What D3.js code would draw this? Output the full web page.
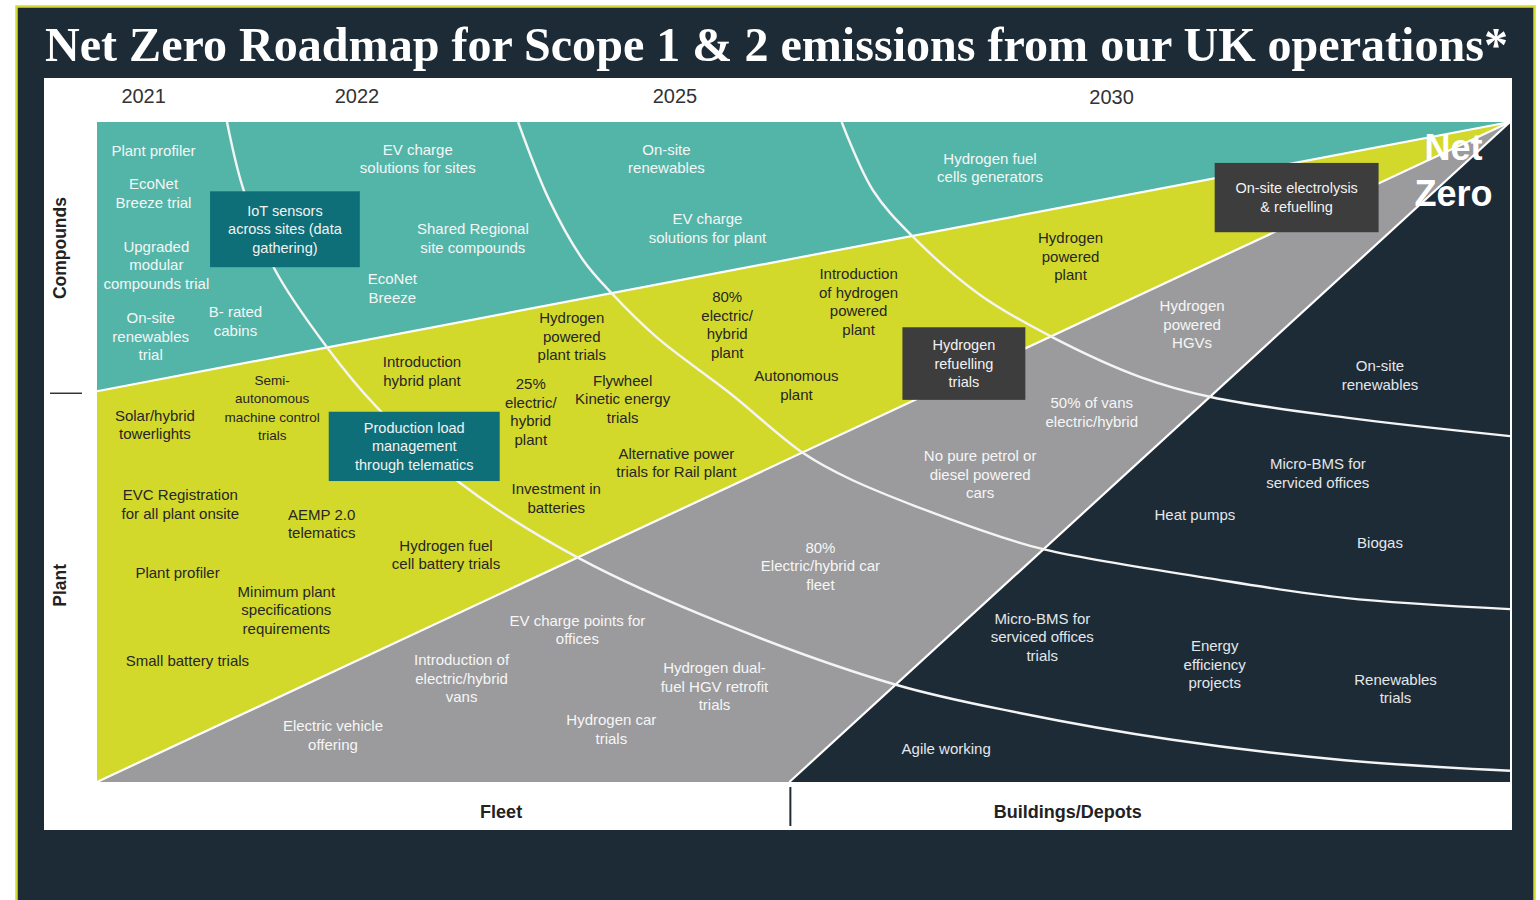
<!DOCTYPE html>
<html>
<head>
<meta charset="utf-8">
<script src="https://cdn.jsdelivr.net/npm/d3@7"></script>
<style>
  body { margin: 0; background: #fff; }
  svg { display: block; }
</style>
</head>
<body>
<div id="roadmap"></div>
<script>
// chart units: x and y both run 0..100 across the wedge area
var titleText = "Net Zero Roadmap for Scope 1 & 2 emissions from our UK operations*";

var years = ["2021", "2022", "2025", "2030"];
var yearPos = [3.3, 18.4, 40.9, 71.8];

var regionNames = ["Compounds", "Plant", "Fleet", "Buildings/Depots"];
var regionCorners = [
    [[0, 0], [100, 0], [0, 40.8]],
    [[0, 40.8], [100, 0], [0, 100]],
    [[0, 100], [100, 0], [49, 100]],
    [[49, 100], [100, 0], [100, 100]]
];
var sideLabelPos = [19.1, 70.2];     // Compounds, Plant (y)
var bottomLabelPos = [28.6, 68.7];   // Fleet, Buildings/Depots (x)

// time arcs (white curves)
var arcA = [[9.2, 0], [10.3, 9.8], [12.5, 22.0], [16.3, 34.2], [19.8, 43.2], [25.7, 54.7], [34.2, 66.2],
    [44.2, 75.9], [56.6, 85.3], [65.2, 89.5], [76.1, 93.6], [88.3, 96.7], [100, 98.3]];
var arcB = [[29.8, 0], [32.0, 11.8], [34.4, 20.9], [36.4, 25.9], [39.6, 32.6], [44.8, 41.1], [50.0, 50.2],
    [53.4, 54.2], [62.5, 61.8], [67.1, 64.8], [78.6, 69.1], [88.3, 72.1], [100, 73.8]];
var arcC = [[52.7, 0], [54.9, 10.3], [57.7, 17.3], [62.5, 26.2], [67.7, 32.7], [73.8, 38.6], [78.9, 41.7],
    [88.4, 44.8], [100, 47.6]];

// items: [lines, x, y of first line]
var compoundItems = [
    [["Plant profiler"], 4.0, 4.4],
    [["EcoNet", "Breeze trial"], 4.0, 9.4],
    [["Upgraded", "modular", "compounds trial"], 4.2, 18.9],
    [["On-site", "renewables", "trial"], 3.8, 29.7],
    [["B- rated", "cabins"], 9.8, 28.8],
    [["EV charge", "solutions for sites"], 22.7, 4.2],
    [["Shared Regional", "site compounds"], 26.6, 16.2],
    [["EcoNet", "Breeze"], 20.9, 23.8],
    [["On-site", "renewables"], 40.3, 4.2],
    [["EV charge", "solutions for plant"], 43.2, 14.7],
    [["Hydrogen fuel", "cells generators"], 63.2, 5.5]
];
var plantItems = [
    [["Solar/hybrid", "towerlights"], 4.1, 44.5],
    [["Semi-", "autonomous", "machine control", "trials"], 12.4, 39.1],
    [["Introduction", "hybrid plant"], 23.0, 36.4],
    [["Hydrogen", "powered", "plant trials"], 33.6, 29.7],
    [["25%", "electric/", "hybrid", "plant"], 30.7, 39.7],
    [["Flywheel", "Kinetic energy", "trials"], 37.2, 39.2],
    [["80%", "electric/", "hybrid", "plant"], 44.6, 26.5],
    [["Introduction", "of hydrogen", "powered", "plant"], 53.9, 23.0],
    [["Autonomous", "plant"], 49.5, 38.5],
    [["Alternative power", "trials for Rail plant"], 41.0, 50.2],
    [["Investment in", "batteries"], 32.5, 55.6],
    [["EVC Registration", "for all plant onsite"], 5.9, 56.5],
    [["AEMP 2.0", "telematics"], 15.9, 59.5],
    [["Hydrogen fuel", "cell battery trials"], 24.7, 64.2],
    [["Plant profiler"], 5.7, 68.3],
    [["Minimum plant", "specifications", "requirements"], 13.4, 71.1],
    [["Small battery trials"], 6.4, 81.7],
    [["Hydrogen", "powered", "plant"], 68.9, 17.6]
];
var fleetItems = [
    [["Electric vehicle", "offering"], 16.7, 91.5],
    [["Introduction of", "electric/hybrid", "vans"], 25.8, 81.5],
    [["EV charge points for", "offices"], 34.0, 75.5],
    [["Hydrogen car", "trials"], 36.4, 90.6],
    [["Hydrogen dual-", "fuel HGV retrofit", "trials"], 43.7, 82.7],
    [["80%", "Electric/hybrid  car", "fleet"], 51.2, 64.5],
    [["No pure petrol or", "diesel powered", "cars"], 62.5, 50.6],
    [["50% of vans", "electric/hybrid"], 70.4, 42.6],
    [["Hydrogen", "powered", "HGVs"], 77.5, 27.9]
];
var buildingItems = [
    [["On-site", "renewables"], 90.8, 37.0],
    [["Micro-BMS for", "serviced offices"], 86.4, 51.8],
    [["Heat pumps"], 77.7, 59.5],
    [["Biogas"], 90.8, 63.8],
    [["Micro-BMS for", "serviced offices", "trials"], 66.9, 75.2],
    [["Energy", "efficiency", "projects"], 79.1, 79.4],
    [["Renewables", "trials"], 91.9, 84.5],
    [["Agile working"], 60.1, 95.0]
];

// highlighted boxes: [lines, x0, y0, x1, y1, kind]
var boxItems = [
    [["IoT sensors", "across sites (data", "gathering)"], 8.0, 10.5, 18.6, 22.0, "teal"],
    [["Production load", "management", "through telematics"], 16.4, 43.9, 28.5, 54.4, "teal"],
    [["On-site electrolysis", "& refuelling"], 79.1, 6.2, 90.7, 16.7, "grey"],
    [["Hydrogen", "refuelling", "trials"], 57.0, 31.1, 65.7, 42.1, "grey"]
];

var W = 1540, H = 900;
var lineStep = 18.5;

var x = d3.scaleLinear().domain([0, 100]).range([97, 1510]);
var y = d3.scaleLinear().domain([0, 100]).range([122, 782]);

var fill = d3.scaleOrdinal().domain(regionNames)
    .range(["#53b5a8", "#d3d92b", "#9b9b9d", "#1c2b36"]);
var ink = d3.scaleOrdinal().domain(regionNames)
    .range(["#f3f7f6", "#262626", "#f6f6f6", "#e4e7ea"]);
var boxFill = { teal: "#0f6f78", grey: "#3d3d3e" };

var svg = d3.select("#roadmap").append("svg")
    .attr("width", W)
    .attr("height", H);

// page frame
svg.append("rect")
    .attr("x", 16.5).attr("y", 6.5)
    .attr("width", 1518).attr("height", H)
    .attr("fill", "#1c2b36")
    .attr("stroke", "#d3db2f")
    .attr("stroke-width", 2.5);

svg.append("text")
    .attr("x", 45).attr("y", 61)
    .attr("textLength", 1463)
    .attr("lengthAdjust", "spacingAndGlyphs")
    .attr("font-family", "'Liberation Serif', 'DejaVu Serif', serif")
    .attr("font-weight", "bold")
    .attr("font-size", 48)
    .attr("fill", "#fff")
    .text(titleText);

// white panel
svg.append("rect")
    .attr("x", 44).attr("y", 78)
    .attr("width", 1468).attr("height", 752)
    .attr("fill", "#fff");

var pt = d3.line().x(function (d) { return x(d[0]); }).y(function (d) { return y(d[1]); });

// wedges
svg.selectAll(".region")
    .data(regionNames)
    .enter()
    .append("path")
    .attr("class", "region")
    .attr("d", function (d, i) { return pt(regionCorners[i]) + "Z"; })
    .attr("fill", fill);

// white separators between wedges
var seams = [regionCorners[1].slice(0, 2), regionCorners[2].slice(0, 2), regionCorners[3].slice(0, 2)];
svg.selectAll(".seam")
    .data(seams)
    .enter()
    .append("path")
    .attr("class", "seam")
    .attr("d", pt)
    .attr("fill", "none")
    .attr("stroke", "#fff")
    .attr("stroke-width", 2.2);

// time arcs
var arcLine = d3.line()
    .x(function (d) { return x(d[0]); })
    .y(function (d) { return y(d[1]); })
    .curve(d3.curveCatmullRom);
svg.selectAll(".arc")
    .data([arcA, arcB, arcC])
    .enter()
    .append("path")
    .attr("class", "arc")
    .attr("d", arcLine)
    .attr("fill", "none")
    .attr("stroke", "#f4f4f4")
    .attr("stroke-width", 2.4);

// years
svg.selectAll(".year")
    .data(years)
    .enter()
    .append("text")
    .attr("class", "year")
    .attr("x", function (d, i) { return x(yearPos[i]); })
    .attr("y", function (d, i) { return i == 3 ? 97 : 96; })
    .attr("dy", "0.35em")
    .attr("text-anchor", "middle")
    .attr("font-family", "'Liberation Sans', Arial, sans-serif")
    .attr("font-size", 20)
    .attr("fill", "#333")
    .text(function (d) { return d; });

// side + bottom labels
sideLabelPos.forEach(function (p, i) {
    svg.append("text")
        .attr("transform", "translate(60," + y(p) + ") rotate(-90)")
        .attr("dy", "0.35em")
        .attr("text-anchor", "middle")
        .attr("font-family", "'Liberation Sans', Arial, sans-serif")
        .attr("font-weight", "bold")
        .attr("font-size", 17.5)
        .attr("fill", "#222")
        .text(regionNames[i]);
});
bottomLabelPos.forEach(function (p, i) {
    svg.append("text")
        .attr("x", x(p)).attr("y", 812)
        .attr("dy", "0.35em")
        .attr("text-anchor", "middle")
        .attr("font-family", "'Liberation Sans', Arial, sans-serif")
        .attr("font-weight", "bold")
        .attr("font-size", 18)
        .attr("fill", "#222")
        .text(regionNames[i + 2]);
});
svg.append("line")
    .attr("x1", 50).attr("x2", 82)
    .attr("y1", y(regionCorners[1][0][1]) + 2).attr("y2", y(regionCorners[1][0][1]) + 2)
    .attr("stroke", "#333").attr("stroke-width", 1.5);
svg.append("line")
    .attr("x1", x(regionCorners[3][0][0]) + 1).attr("x2", x(regionCorners[3][0][0]) + 1)
    .attr("y1", 787).attr("y2", 826)
    .attr("stroke", "#1c2b36").attr("stroke-width", 2);

// multi-line text helper
function addLabel(lines, cx, cy, color, size) {
    var t = svg.append("text")
        .attr("text-anchor", "middle")
        .attr("font-family", "'Liberation Sans', Arial, sans-serif")
        .attr("font-size", size)
        .attr("fill", color);
    lines.forEach(function (s, i) {
        t.append("tspan")
            .attr("x", cx)
            .attr("y", cy + i * lineStep)
            .attr("dy", "0.35em")
            .text(s);
    });
}

// highlighted boxes
boxItems.forEach(function (b) {
    svg.append("rect")
        .attr("x", x(b[1])).attr("y", y(b[2]))
        .attr("width", x(b[3]) - x(b[1]))
        .attr("height", y(b[4]) - y(b[2]))
        .attr("fill", boxFill[b[5]]);
    var cy = (y(b[2]) + y(b[4])) / 2 - (b[0].length - 1) * lineStep / 2;
    addLabel(b[0], (x(b[1]) + x(b[3])) / 2, cy, "#f2f2f2", 14.5);
});

// items per wedge
[compoundItems, plantItems, fleetItems, buildingItems].forEach(function (items, r) {
    items.forEach(function (d) {
        var size = d[0][0] == "Semi-" ? 13.5 : 15;
        addLabel(d[0], x(d[1]), y(d[2]), ink(regionNames[r]), size);
    });
});

// Net Zero
["Net", "Zero"].forEach(function (s, i) {
    svg.append("text")
        .attr("x", x(96.0)).attr("y", y(i == 0 ? 3.9 : 10.8))
        .attr("dy", "0.35em")
        .attr("text-anchor", "middle")
        .attr("font-family", "'Liberation Sans', Arial, sans-serif")
        .attr("font-weight", "bold")
        .attr("font-size", 36)
        .attr("fill", "#fff")
        .text(s);
});
</script>
</body>
</html>
